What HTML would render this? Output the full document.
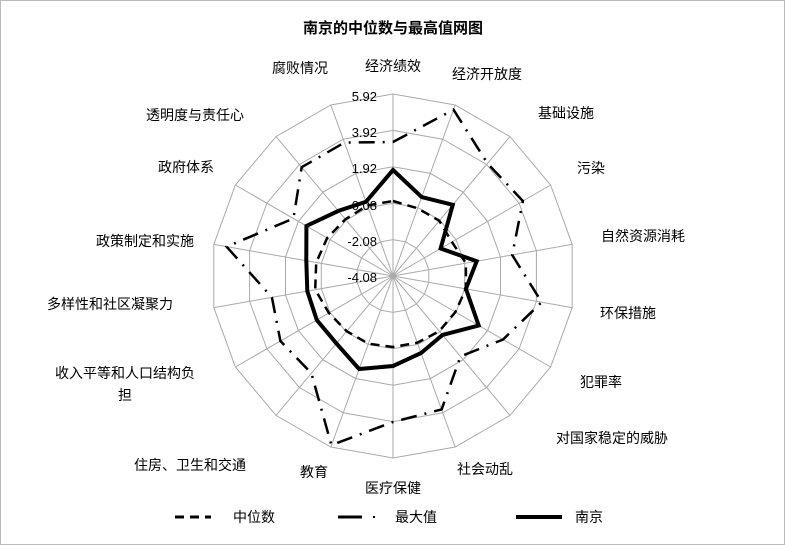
<!DOCTYPE html>
<html><head><meta charset="utf-8"><style>
html,body{margin:0;padding:0;background:#fff}
svg{display:block}
text{font-family:"Liberation Sans","Noto Sans CJK SC",sans-serif;fill:#000}
</style></head><body>
<svg id="s" width="785" height="545" viewBox="0 0 785 545">
<rect x="0.5" y="0.5" width="784" height="544" fill="#fff" stroke="#bbb"/>
<text x="393" y="33" font-size="15" font-weight="bold" text-anchor="middle">南京的中位数与最高值网图</text>
<g id="grid" stroke="#aaa" stroke-width="1" fill="none"></g>
<g font-size="13" text-anchor="end">
<text x="377" y="101">5.92</text>
<text x="377" y="137">3.92</text>
<text x="377" y="173">1.92</text>
<text x="377" y="210">-0.08</text>
<text x="377" y="246">-2.08</text>
<text x="377" y="282">-4.08</text>
</g>
<g id="series" fill="none" stroke="#000" stroke-linejoin="miter"></g>
<g font-size="14">
<text x="393" y="71" text-anchor="middle">经济绩效</text>
<text x="487" y="79" text-anchor="middle">经济开放度</text>
<text x="566" y="118" text-anchor="middle">基础设施</text>
<text x="591" y="173" text-anchor="middle">污染</text>
<text x="643" y="241" text-anchor="middle">自然资源消耗</text>
<text x="628" y="318" text-anchor="middle">环保措施</text>
<text x="601" y="387" text-anchor="middle">犯罪率</text>
<text x="612" y="443" text-anchor="middle">对国家稳定的威胁</text>
<text x="485" y="474" text-anchor="middle">社会动乱</text>
<text x="393" y="493" text-anchor="middle">医疗保健</text>
<text x="314" y="477" text-anchor="middle">教育</text>
<text x="190" y="470" text-anchor="middle">住房、卫生和交通</text>
<text x="125" y="378" text-anchor="middle">收入平等和人口结构负</text>
<text x="125" y="400" text-anchor="middle">担</text>
<text x="110" y="309" text-anchor="middle">多样性和社区凝聚力</text>
<text x="145" y="246" text-anchor="middle">政策制定和实施</text>
<text x="186" y="172" text-anchor="middle">政府体系</text>
<text x="195" y="120" text-anchor="middle">透明度与责任心</text>
<text x="300" y="73" text-anchor="middle">腐败情况</text>
</g>
<line x1="175" y1="517" x2="211" y2="517" stroke="#000" stroke-width="3" stroke-dasharray="9,6"/>
<text x="233" y="522" font-size="14">中位数</text>
<line x1="338" y1="517" x2="362" y2="517" stroke="#000" stroke-width="3"/>
<line x1="373" y1="517" x2="375" y2="517" stroke="#000" stroke-width="2"/>
<text x="395" y="522" font-size="14">最大值</text>
<line x1="516" y1="517" x2="562" y2="517" stroke="#000" stroke-width="4"/>
<text x="575" y="522" font-size="14">南京</text>
</svg>
<script>
var cx=393,cy=276,R=182,N=18,ns="http://www.w3.org/2000/svg";
function pt(i,r){var a=i*20*Math.PI/180;return [cx+r*Math.sin(a),cy-r*Math.cos(a)];}
var g=document.getElementById('grid');
for(var k=1;k<=5;k++){var p=[];for(var i=0;i<N;i++){p.push(pt(i,R*k/5).map(function(v){return v.toFixed(1)}).join(','));}
var e=document.createElementNS(ns,'polygon');e.setAttribute('points',p.join(' '));g.appendChild(e);}
for(var i=0;i<N;i++){var q=pt(i,R);var l=document.createElementNS(ns,'line');l.setAttribute('x1',cx);l.setAttribute('y1',cy);l.setAttribute('x2',q[0].toFixed(1));l.setAttribute('y2',q[1].toFixed(1));g.appendChild(l);}
var S=document.getElementById('series');
function poly(rs,w,dash){var p=rs.map(function(r,i){return pt(i,r).map(function(v){return v.toFixed(1)}).join(',');});
var e=document.createElementNS(ns,'polygon');e.setAttribute('points',p.join(' '));e.setAttribute('stroke-width',w);if(dash)e.setAttribute('stroke-dasharray',dash);S.appendChild(e);}
poly([75,72,72,68,74,74,72,72,71,71,72,72,74,79,78,76,74,75],2.5,"9,6");
poly([134,177,147,150,121,151,127,105,142,146,180,127,130,123,169,115,142,142],2.5,"16,8,2,8");
poly([106,84,93,55,85,74,99,77,82,90,99,88,88,87,88,100,85,79],4,null);
</script>
</body></html>
